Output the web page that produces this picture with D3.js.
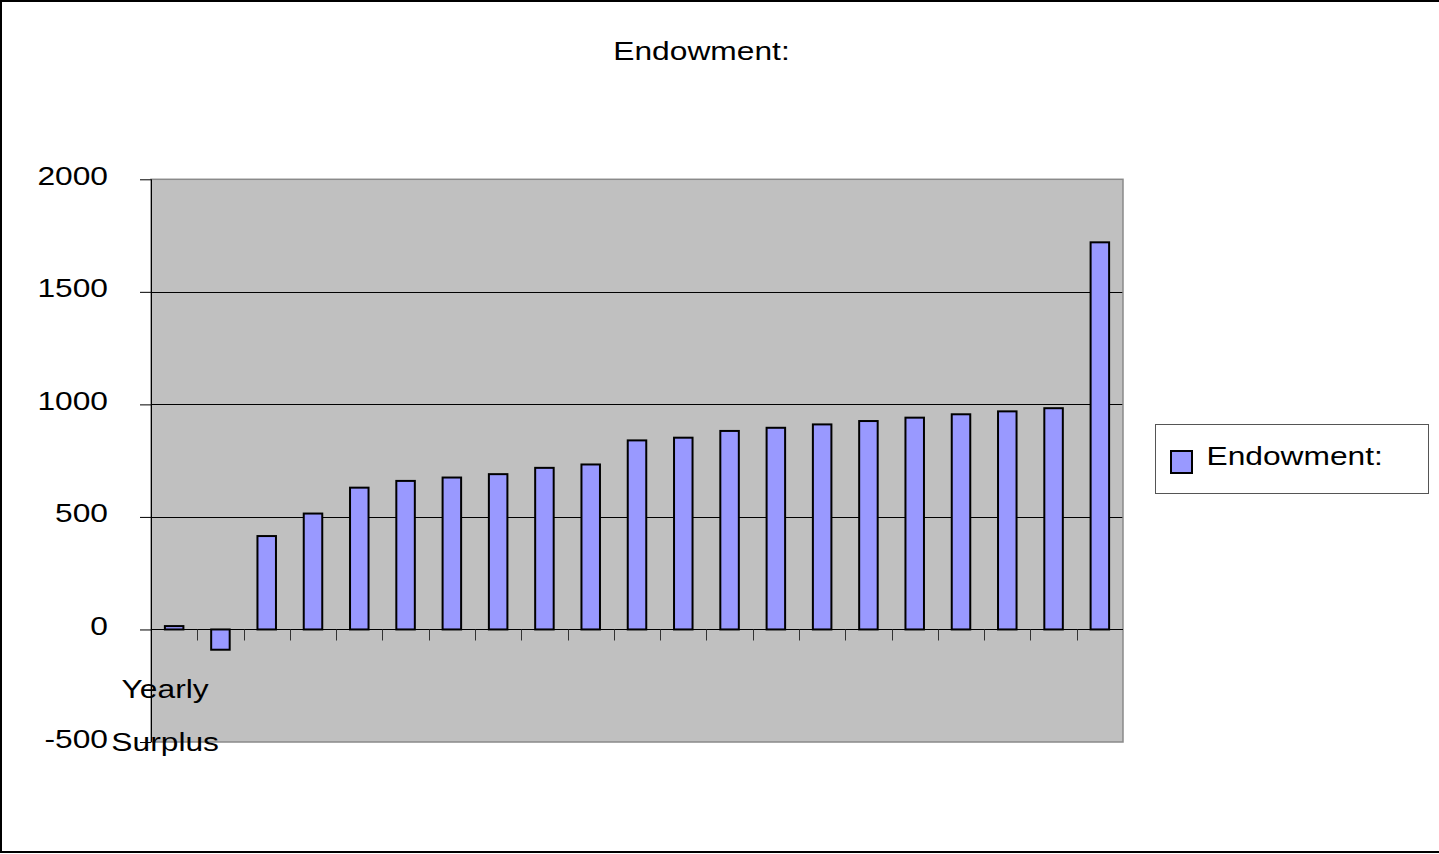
<!DOCTYPE html>
<html>
<head>
<meta charset="utf-8">
<script src="https://cdn.jsdelivr.net/npm/d3@7"></script>
<style>
  html, body { margin: 0; padding: 0; background: #fff; }
  svg { display: block; }
  text { font-family: "Liberation Sans", Arial, sans-serif; fill: #000; }
</style>
</head>
<body>
<svg id="chart" width="1439" height="854"></svg>
<script>
// Chart data
const chartTitle = "Endowment:";
const seriesName = "Endowment:";
const categoryLabels = ["Yearly Surplus", "", "", "", "", "", "", "", "", "", "", "", "", "", "", "", "", "", "", "", ""];
const endowmentValues = [15, -90, 415, 515, 630, 660, 675, 690, 718, 733, 840, 852, 882, 896, 911, 926, 941, 956, 969, 983, 1720];
const yTicks = [-500, 0, 500, 1000, 1500, 2000];

// Layout
const W = 1439, H = 854;
const plot = { left: 151, right: 1123, top: 179.3, bottom: 742 };
const fontSize = 25;
const stretch = 1.27;   // wide lettering

const svg = d3.select("#chart");

// Outer frame
svg.append("path")
  .attr("d", `M${W + 2},1 H1 V${H - 2} H${W + 2}`)
  .attr("fill", "none")
  .attr("stroke", "#000")
  .attr("stroke-width", 2);

const x = d3.scaleBand()
  .domain(d3.range(endowmentValues.length))
  .range([plot.left, plot.right])
  .paddingInner(0.6)
  .paddingOuter(0.3);

const y = d3.scaleLinear()
  .domain([-500, 2000])
  .range([plot.bottom, plot.top]);

function wideText(g, str, tx, ty, anchor) {
  return g.append("text")
    .attr("transform", `translate(${tx},${ty}) scale(${stretch},1)`)
    .attr("text-anchor", anchor)
    .attr("font-size", fontSize)
    .text(str);
}

// Plot background
svg.append("rect")
  .attr("x", plot.left).attr("y", plot.top)
  .attr("width", plot.right - plot.left)
  .attr("height", plot.bottom - plot.top)
  .attr("fill", "#c0c0c0");

// Horizontal gridlines
svg.append("g")
  .selectAll("line")
  .data(yTicks.filter(d => d > -500 && d < 2000 && d !== 0))
  .join("line")
  .attr("x1", plot.left).attr("x2", plot.right)
  .attr("y1", d => Math.round(y(d)) + 0.5)
  .attr("y2", d => Math.round(y(d)) + 0.5)
  .attr("stroke", "#000")
  .attr("stroke-width", 1);

// Plot border
svg.append("rect")
  .attr("x", plot.left).attr("y", plot.top)
  .attr("width", plot.right - plot.left)
  .attr("height", plot.bottom - plot.top)
  .attr("fill", "none")
  .attr("stroke", "#8a8a8a")
  .attr("stroke-width", 1.5);

// Bars
svg.append("g")
  .selectAll("rect")
  .data(endowmentValues)
  .join("rect")
  .attr("x", (d, i) => x(i))
  .attr("width", x.bandwidth())
  .attr("y", d => Math.min(y(d), y(0)))
  .attr("height", d => Math.abs(y(d) - y(0)))
  .attr("fill", "#9999ff")
  .attr("stroke", "#000")
  .attr("stroke-width", 2);

// Category axis along zero
const zeroY = Math.round(y(0)) + 0.5;
const xAxisG = svg.append("g");
xAxisG.append("line")
  .attr("x1", plot.left).attr("x2", plot.right)
  .attr("y1", zeroY).attr("y2", zeroY)
  .attr("stroke", "#000");
xAxisG.selectAll("line.tick")
  .data(d3.range(1, endowmentValues.length))
  .join("line")
  .attr("class", "tick")
  .attr("x1", i => Math.round(plot.left + i * x.step()) + 0.5)
  .attr("x2", i => Math.round(plot.left + i * x.step()) + 0.5)
  .attr("y1", zeroY).attr("y2", zeroY + 11)
  .attr("stroke", "#333");

// Category labels (wrapped)
categoryLabels.forEach((lab, i) => {
  if (!lab) return;
  const cx = x(i) + x.bandwidth() / 2 - 9;
  lab.split(" ").forEach((word, k) => {
    wideText(svg, word, cx, 698 + k * 53, "middle");
  });
});

// Value axis
const yAxis = d3.axisLeft(y)
  .tickValues(yTicks)
  .tickSize(11)
  .tickFormat(d => String(d));
const yAxisG = svg.append("g")
  .attr("transform", `translate(${plot.left},0)`)
  .call(yAxis);
yAxisG.select(".domain").attr("stroke", "#000").attr("d", `M0.5,${plot.top}V${plot.bottom}`);
yAxisG.selectAll(".tick line").attr("stroke", "#000");
yAxisG.selectAll(".tick text")
  .attr("x", null).attr("dy", null)
  .attr("transform", `translate(-43,5) scale(${stretch},1)`)
  .attr("text-anchor", "end")
  .attr("font-size", fontSize)
  .attr("font-family", "Liberation Sans, Arial, sans-serif")
  .attr("fill", "#000");

// Title
wideText(svg, chartTitle, 701.5, 59.5, "middle");

// Legend
const lg = svg.append("g");
lg.append("rect")
  .attr("x", 1155.5).attr("y", 424.5)
  .attr("width", 273).attr("height", 69)
  .attr("fill", "#fff")
  .attr("stroke", "#555")
  .attr("stroke-width", 1);
lg.append("rect")
  .attr("x", 1171).attr("y", 451)
  .attr("width", 21).attr("height", 22)
  .attr("fill", "#9999ff")
  .attr("stroke", "#000")
  .attr("stroke-width", 2);
wideText(lg, seriesName, 1206.5, 465, "start");
</script>
</body>
</html>
